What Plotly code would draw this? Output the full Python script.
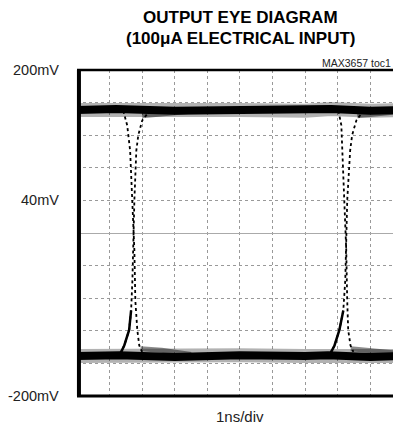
import plotly.graph_objects as go

# time axis in ns (1 ns/div), amplitude in mV (40 mV/div)
top_t = [0.0, 1.2, 3.0, 5.0, 7.0, 7.8, 9.0, 9.94]
top_v = [151, 152, 150, 151, 150, 152, 150, 151]
bot_t = [0.0, 1.3, 3.0, 5.0, 7.0, 7.7, 9.0, 9.94]
bot_v = [-151, -150, -152, -150, -151, -150, -152, -151]

fall1_t = [1.42, 1.54, 1.63, 1.70, 1.76, 1.79, 1.85, 1.91, 2.00]
fall1_v = [150, 132, 101, 40, -21, -83, -119, -138, -146]
rise1_t = [1.33, 1.45, 1.60, 1.66, 1.70, 1.73, 1.76, 1.82, 1.88, 2.00, 2.19]
rise1_v = [-148, -138, -119, -95, -58, 1, 40, 101, 120, 138, 148]

fall2_t = [8.02, 8.11, 8.14, 8.20, 8.26, 8.29, 8.32, 8.39, 8.48]
fall2_v = [150, 132, 101, 40, -21, -83, -119, -138, -146]
rise2_t = [7.77, 7.90, 8.05, 8.17, 8.23, 8.26, 8.29, 8.38, 8.44, 8.57, 8.75]
rise2_v = [-148, -138, -119, -95, -58, 1, 40, 101, 120, 138, 148]

# settling after each edge
top_tail_t = [[2.0, 2.6, 3.4], [8.6, 9.2, 9.94]]
top_tail_v = [[144, 146, 149], [144, 146, 149]]
bot_tail_t = [[1.95, 2.6, 3.5], [8.4, 9.0, 9.94]]
bot_tail_v = [[-142, -144, -149], [-142, -144, -148]]

ytick_vals = [200, 40, -200]
ytick_text = ['200mV', '40mV', '-200mV']

FONT = 'Liberation Sans, Arial, sans-serif'

fig = go.Figure()

# rails: soft halo + dense core
for t, v in [(top_t, top_v), (bot_t, bot_v)]:
    fig.add_trace(go.Scatter(x=t, y=v, mode='lines',
                             line=dict(color='rgba(0,0,0,0.3)', width=14)))
    fig.add_trace(go.Scatter(x=t, y=v, mode='lines',
                             line=dict(color='black', width=8)))

for t, v in zip(top_tail_t + bot_tail_t, top_tail_v + bot_tail_v):
    fig.add_trace(go.Scatter(x=t, y=v, mode='lines',
                             line=dict(color='rgba(0,0,0,0.45)', width=5)))

# edges are sparse samples -> dotted
for t, v in [(fall1_t, fall1_v), (rise1_t, rise1_v), (fall2_t, fall2_v), (rise2_t, rise2_v)]:
    fig.add_trace(go.Scatter(x=t, y=v, mode='lines',
                             line=dict(color='black', width=1.8, dash='dot')))

# lower part of rising edges is dense
for t, v in [(rise1_t, rise1_v), (rise2_t, rise2_v)]:
    fig.add_trace(go.Scatter(x=t[:4], y=v[:4], mode='lines',
                             line=dict(color='black', width=2.5)))

fig.update_traces(hoverinfo='skip')

fig.update_xaxes(range=[0, 9.94], dtick=1, showticklabels=False, ticks='',
                 showgrid=True, gridcolor='#999', griddash='dot', gridwidth=1,
                 zeroline=False, showline=False)
fig.update_yaxes(range=[-200, 200], dtick=40, showticklabels=False, ticks='',
                 showgrid=True, gridcolor='#999', griddash='dot', gridwidth=1,
                 zeroline=True, zerolinecolor='#aaa', zerolinewidth=1.3, showline=False)

annotations = []
for val, txt in zip(ytick_vals, ytick_text):
    annotations.append(dict(x=-0.05, y=val, xref='paper', yref='y', text=txt,
                            showarrow=False, xanchor='right', yanchor='middle',
                            font=dict(family=FONT, size=14.5, color='#222')))
annotations += [
    dict(x=0.506, y=1.160, xref='paper', yref='paper', text='<b>OUTPUT EYE DIAGRAM</b>',
         showarrow=False, xanchor='center', yanchor='middle',
         font=dict(family=FONT, size=17, color='black')),
    dict(x=0.506, y=1.098, xref='paper', yref='paper', text='<b>(100μA ELECTRICAL INPUT)</b>',
         showarrow=False, xanchor='center', yanchor='middle',
         font=dict(family=FONT, size=17, color='black')),
    dict(x=0.975, y=1.023, xref='paper', yref='paper', text='MAX3657 toc1',
         showarrow=False, xanchor='right', yanchor='middle',
         font=dict(family=FONT, size=10.5, color='#222')),
    dict(x=0.503, y=-0.064, xref='paper', yref='paper', text='1ns/div',
         showarrow=False, xanchor='center', yanchor='middle',
         font=dict(family=FONT, size=15, color='#222')),
]

shapes = [
    dict(type='line', xref='paper', yref='paper', x0=0.006, x1=0.006, y0=0, y1=1,
         line=dict(color='black', width=4)),
    dict(type='line', xref='paper', yref='paper', x0=0, x1=1, y0=1, y1=1,
         line=dict(color='black', width=2.5)),
    dict(type='line', xref='paper', yref='paper', x0=0, x1=1, y0=0, y1=0,
         line=dict(color='black', width=3)),
]

# page body adds an 8px offset, so the figure is 8px smaller than the window
fig.update_layout(width=393, height=418, margin=dict(l=69, r=0, t=62, b=30),
                  showlegend=False, plot_bgcolor='white', paper_bgcolor='white',
                  annotations=annotations, shapes=shapes)

fig.write_html("out.html")
